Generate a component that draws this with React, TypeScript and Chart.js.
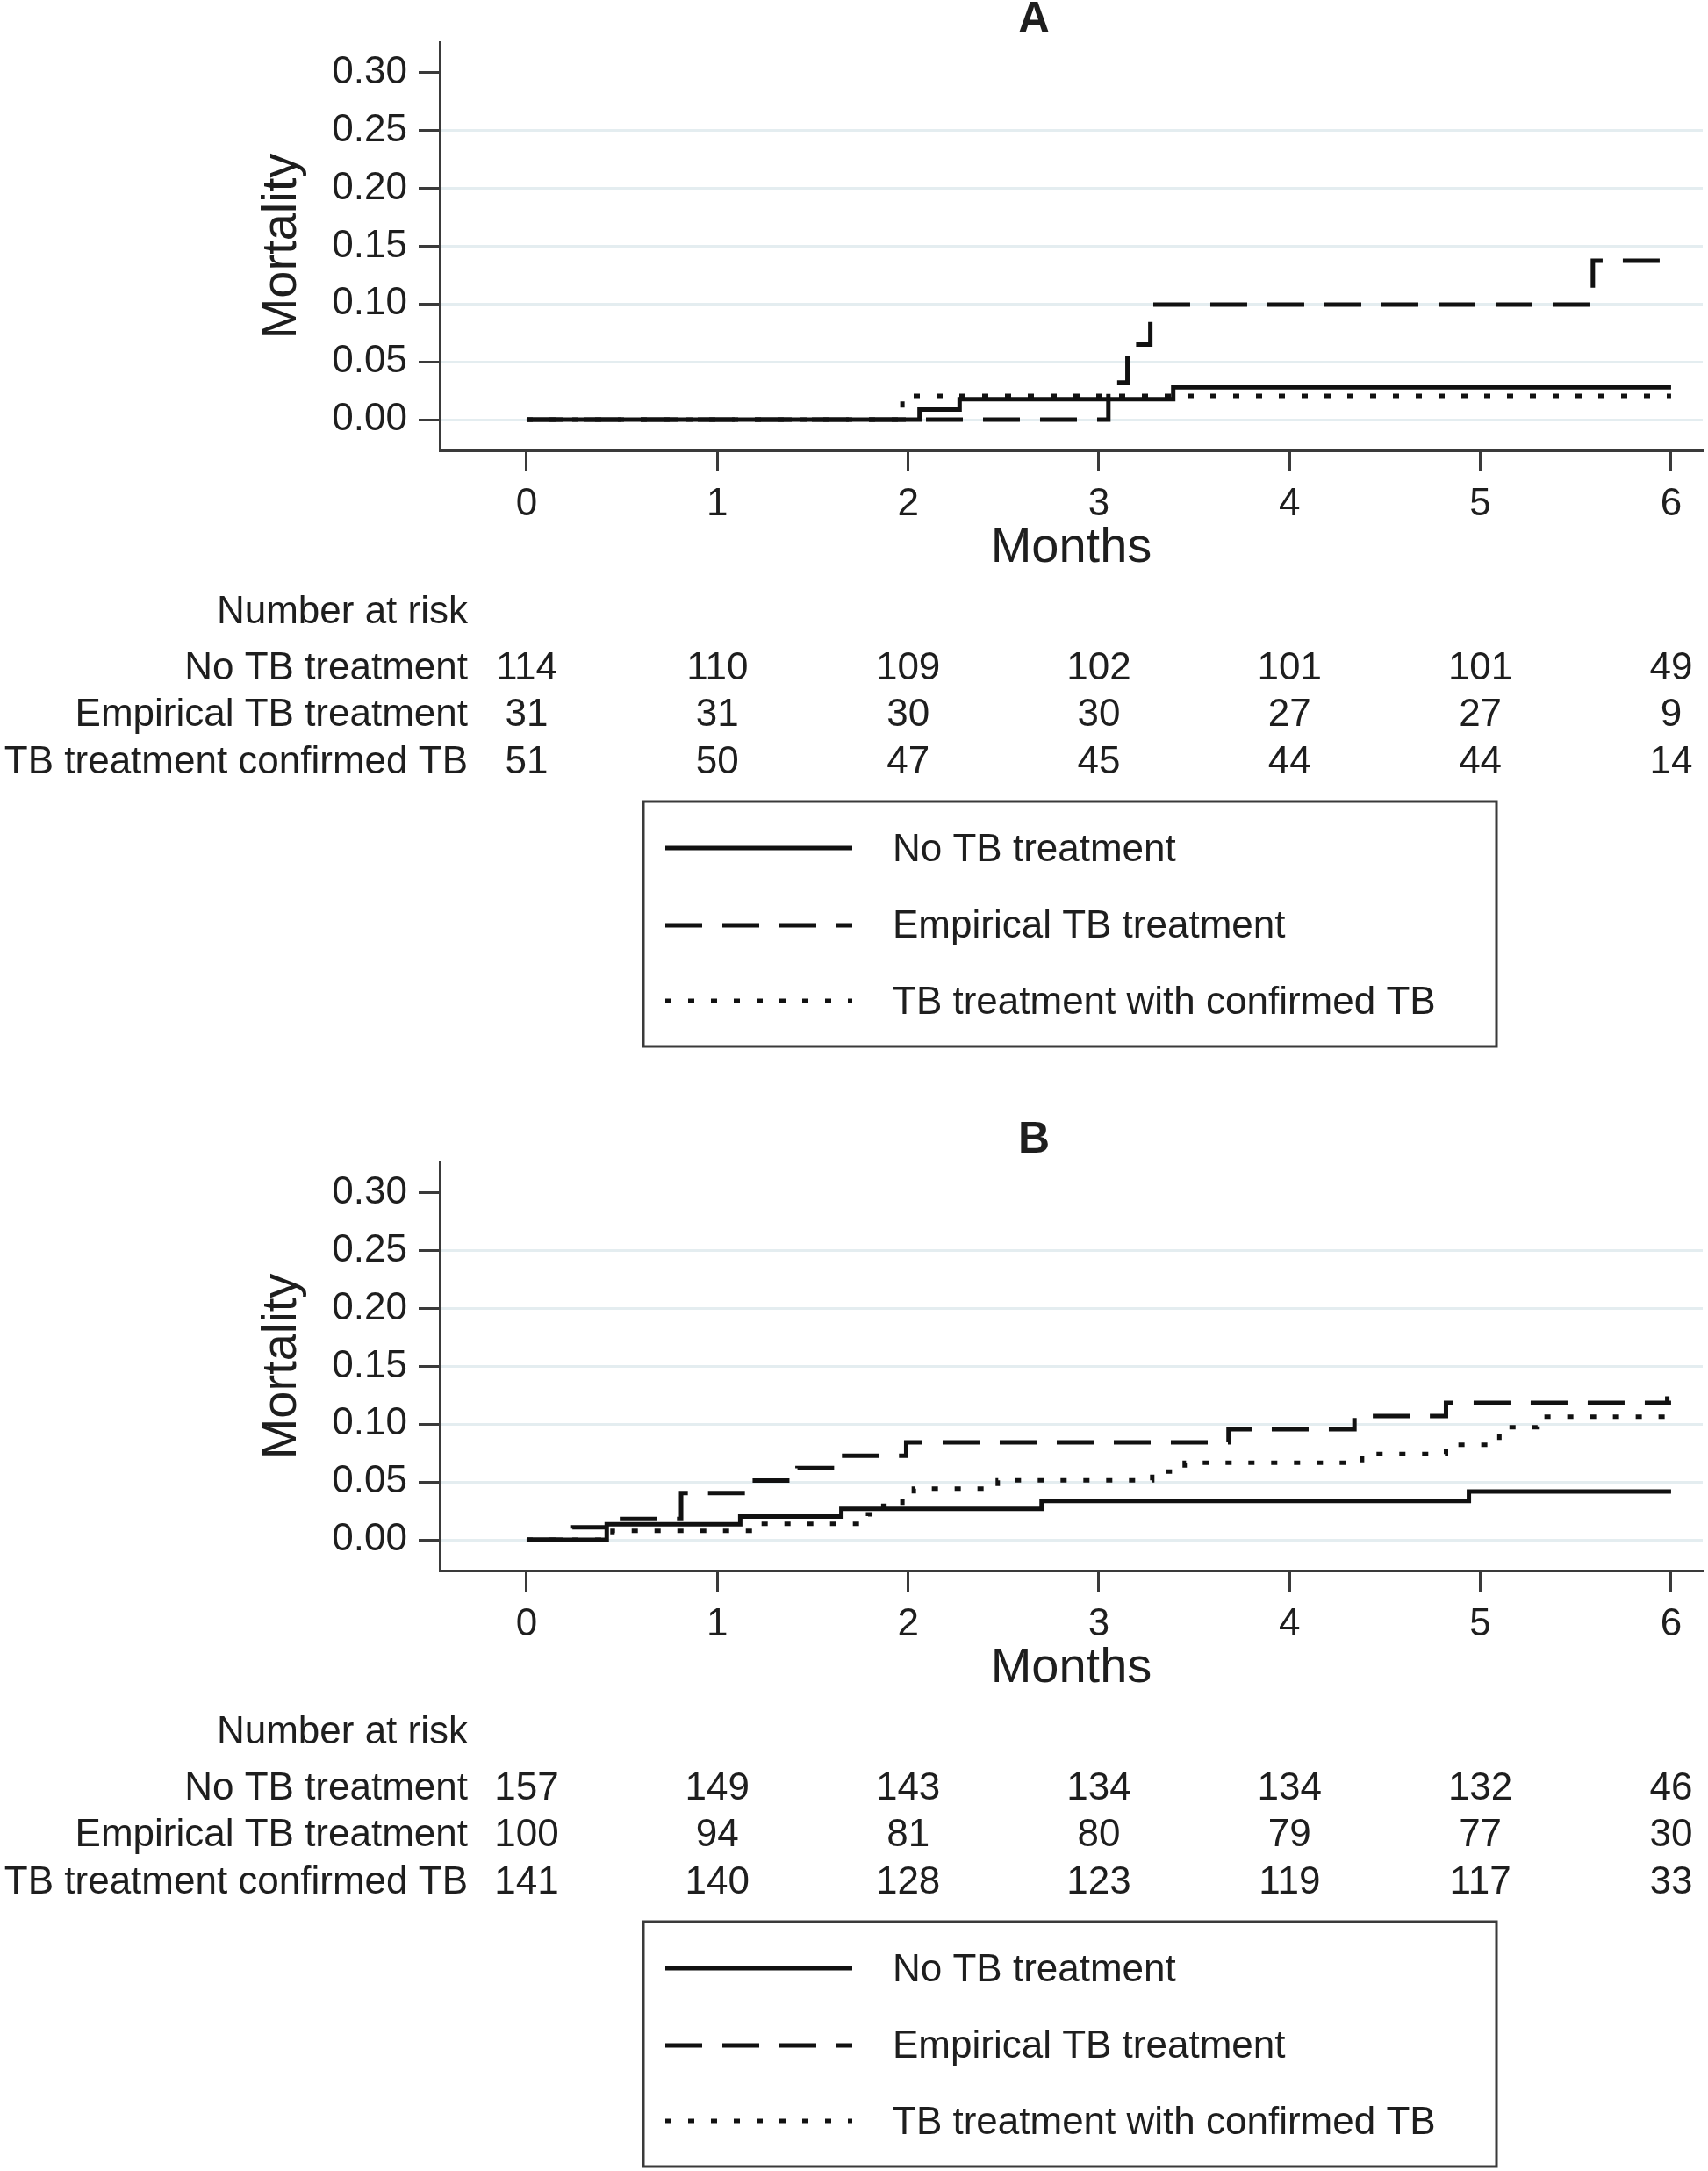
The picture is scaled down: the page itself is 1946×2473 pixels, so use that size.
import React, { useEffect, useRef } from "react";
import { Chart, registerables } from "chart.js";

Chart.register(...registerables);

const FONT = "'Liberation Sans', Arial, Helvetica, sans-serif";
const TEXT = "#1e1e1e";
const AXIS = "#3a3a3a";
const GRID = "#e4edf0";
const LINE = "#111111";

// Axis ticks
const xTickValues = [0, 1, 2, 3, 4, 5, 6];
const yTickValues = [0, 0.05, 0.1, 0.15, 0.2, 0.25, 0.3];

// Names
const seriesNames = ["No TB treatment", "Empirical TB treatment", "TB treatment with confirmed TB"];
const riskRowLabels = ["No TB treatment", "Empirical TB treatment", "TB treatment confirmed TB"];
const panelLetters = ["A", "B"];

// Panel A curves (months, cumulative mortality)
const aNoTbMonths = [0, 2.06, 2.27, 3.39, 6];
const aNoTbMortality = [0, 0.0088, 0.0177, 0.028, 0.028];
const aEmpMonths = [0, 3.05, 3.15, 3.27, 5.59, 6];
const aEmpMortality = [0, 0.032, 0.065, 0.0995, 0.1375, 0.1375];
const aConfMonths = [0, 1.97, 6];
const aConfMortality = [0, 0.0205, 0.0205];

// Panel B curves
const bNoTbMonths = [0, 0.42, 1.12, 1.65, 2.7, 4.94, 6];
const bNoTbMortality = [0, 0.0135, 0.0202, 0.0268, 0.0337, 0.0418, 0.0418];
const bEmpMonths = [0, 0.24, 0.5, 0.81, 1.18, 1.42, 1.65, 1.99, 3.68, 4.34, 4.82, 6];
const bEmpMortality = [0, 0.0109, 0.018, 0.0405, 0.0513, 0.062, 0.0727, 0.0843, 0.0957, 0.107, 0.1185, 0.1185];
const bConfMonths = [0, 0.45, 1.17, 1.79, 1.87, 1.97, 2.03, 2.47, 3.28, 3.45, 4.38, 4.82, 5.1, 5.3, 5.98, 6];
const bConfMortality = [0, 0.0078, 0.0139, 0.022, 0.0295, 0.037, 0.0443, 0.0514, 0.059, 0.0666, 0.0742, 0.0823, 0.0974, 0.1066, 0.13, 0.13];

// Number at risk
const aRiskNoTb = [114, 110, 109, 102, 101, 101, 49];
const aRiskEmp = [31, 31, 30, 30, 27, 27, 9];
const aRiskConf = [51, 50, 47, 45, 44, 44, 14];
const bRiskNoTb = [157, 149, 143, 134, 134, 132, 46];
const bRiskEmp = [100, 94, 81, 80, 79, 77, 30];
const bRiskConf = [141, 140, 128, 123, 119, 117, 33];

const DASHES: number[][] = [[], [42, 23], [7, 19]];

type Curve = { months: number[]; mortality: number[] };

const panels = [
  {
    letter: panelLetters[0],
    height: 1276,
    curves: [
      { months: aNoTbMonths, mortality: aNoTbMortality },
      { months: aEmpMonths, mortality: aEmpMortality },
      { months: aConfMonths, mortality: aConfMortality },
    ] as Curve[],
    risk: [aRiskNoTb, aRiskEmp, aRiskConf],
  },
  {
    letter: panelLetters[1],
    height: 1197,
    curves: [
      { months: bNoTbMonths, mortality: bNoTbMortality },
      { months: bEmpMonths, mortality: bEmpMortality },
      { months: bConfMonths, mortality: bConfMortality },
    ] as Curve[],
    risk: [bRiskNoTb, bRiskEmp, bRiskConf],
  },
];

function Panel({ letter, height, curves, risk }: { letter: string; height: number; curves: Curve[]; risk: number[][] }) {
  const ref = useRef<HTMLCanvasElement | null>(null);

  useEffect(() => {
    const canvas = ref.current;
    if (!canvas) return;

    const decor = {
      id: "decor",
      afterDraw(chart: any) {
        const ctx: CanvasRenderingContext2D = chart.ctx;
        const xs = chart.scales.x;
        ctx.save();
        ctx.fillStyle = TEXT;
        ctx.textBaseline = "alphabetic";
        // panel letter
        ctx.font = `bold 50px ${FONT}`;
        ctx.textAlign = "center";
        ctx.fillText(letter, 1178, 37);
        // number at risk table
        ctx.font = `44px ${FONT}`;
        ctx.textAlign = "right";
        ctx.fillText("Number at risk", 533, 710);
        const rowY = [773.5, 827, 880.5];
        riskRowLabels.forEach((lab, r) => {
          ctx.textAlign = "right";
          ctx.fillText(lab, 533, rowY[r]);
          ctx.textAlign = "center";
          risk[r].forEach((n, i) => {
            ctx.fillText(String(n), xs.getPixelForValue(xTickValues[i]), rowY[r]);
          });
        });
        // legend box
        ctx.strokeStyle = AXIS;
        ctx.lineWidth = 3;
        ctx.setLineDash([]);
        ctx.strokeRect(733, 913, 972, 279);
        const legY = [966, 1054, 1140];
        const legBase = [981, 1068, 1155];
        seriesNames.forEach((name, i) => {
          ctx.strokeStyle = LINE;
          ctx.lineWidth = 5;
          ctx.lineCap = "butt";
          ctx.setLineDash(DASHES[i]);
          ctx.beginPath();
          ctx.moveTo(758, legY[i]);
          ctx.lineTo(971, legY[i]);
          ctx.stroke();
          ctx.setLineDash([]);
          ctx.textAlign = "left";
          ctx.fillText(name, 1017, legBase[i]);
        });
        ctx.restore();
      },
    };

    const chart = new Chart(canvas, {
      type: "line",
      data: {
        datasets: curves.map((c, i) => ({
          label: seriesNames[i],
          data: c.months.map((m, j) => ({ x: m, y: c.mortality[j] })),
          borderColor: LINE,
          backgroundColor: LINE,
          borderWidth: 5,
          borderDash: DASHES[i],
          stepped: "before" as const,
          pointRadius: 0,
          fill: false,
        })),
      },
      options: {
        animation: false,
        responsive: false,
        devicePixelRatio: 1,
        layout: { padding: { left: 288, top: 48, right: 6, bottom: height - 658 } },
        plugins: {
          legend: { display: false },
          tooltip: { enabled: false },
          title: { display: false },
        },
        scales: {
          x: {
            type: "linear",
            position: "bottom",
            min: -0.4555,
            max: 6.166,
            afterBuildTicks: (s: any) => {
              s.ticks = xTickValues.map((v) => ({ value: v }));
            },
            afterFit: (s: any) => {
              s.height = 145;
            },
            ticks: {
              font: { size: 44, family: FONT },
              color: TEXT,
              padding: 11,
              maxRotation: 0,
              autoSkip: false,
              callback: (v: any) => String(v),
            },
            grid: {
              display: true,
              drawOnChartArea: false,
              drawTicks: true,
              tickLength: 24,
              tickWidth: 3,
              tickColor: AXIS,
            },
            border: { display: true, color: AXIS, width: 3 },
            title: {
              display: true,
              text: "Months",
              font: { size: 56, family: FONT },
              color: TEXT,
              padding: 0,
            },
          },
          y: {
            type: "linear",
            position: "left",
            min: -0.02658,
            max: 0.32657,
            afterBuildTicks: (s: any) => {
              s.ticks = yTickValues.map((v) => ({ value: v }));
            },
            afterFit: (s: any) => {
              s.width = 213;
            },
            ticks: {
              font: { size: 44, family: FONT },
              color: TEXT,
              padding: 13,
              autoSkip: false,
              callback: (v: any) => Number(v).toFixed(2),
            },
            grid: {
              display: true,
              drawOnChartArea: true,
              color: (c: any) => (c.tick && Math.abs(c.tick.value - 0.3) < 1e-9 ? "rgba(0,0,0,0)" : GRID),
              lineWidth: 3,
              drawTicks: true,
              tickLength: 24,
              tickWidth: 3,
              tickColor: AXIS,
            },
            border: { display: true, color: AXIS, width: 3 },
            title: {
              display: true,
              text: "Mortality",
              font: { size: 56, family: FONT },
              color: TEXT,
              padding: 0,
            },
          },
        },
      },
      plugins: [decor],
    } as any);

    return () => {
      chart.destroy();
    };
  }, [letter, height, curves, risk]);

  return (
    <canvas
      ref={ref}
      width={1946}
      height={height}
      style={{ display: "block", width: "1946px", height: `${height}px` }}
    />
  );
}

export default function App() {
  return (
    <div style={{ position: "absolute", left: 0, top: 0, width: 1946, background: "#ffffff" }}>
      {panels.map((p) => (
        <Panel key={p.letter} letter={p.letter} height={p.height} curves={p.curves} risk={p.risk} />
      ))}
    </div>
  );
}
